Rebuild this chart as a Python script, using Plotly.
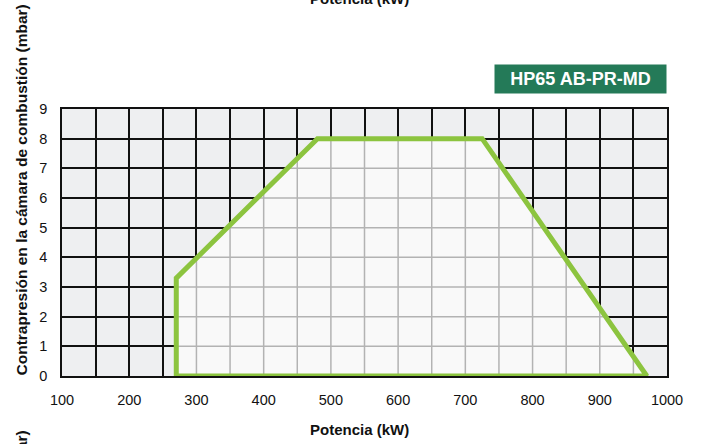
import numpy as np
import plotly.graph_objects as go

# ---- data ----
power_kw = [270, 270, 480, 725, 970, 270]        # working envelope, kW
pressure_mbar = [0, 3.3, 8, 8, 0, 0]             # back pressure, mbar
x_tick_values = list(range(100, 1001, 50))
x_tick_labels = [str(v) if v % 100 == 0 else "" for v in x_tick_values]
y_tick_values = list(range(0, 10))
y_tick_labels = [str(v) for v in y_tick_values]
model_label = "HP65 AB-PR-MD"
x_title = "Potencia (kW)"
y_title = "Contrapresión en la cámara de combustión (mbar)"

GREEN = "#8cc43f"
BADGE = "#247a58"
OUT_BG = "#eeeff1"
IN_BG = "#f9f9f9"
IN_GRID = "#b3b3b3"
FONT = "Liberation Sans, Arial, sans-serif"

fig = go.Figure()

# filled envelope (covers the black grid)
fig.add_trace(go.Scatter(x=power_kw, y=pressure_mbar, mode="lines", fill="toself",
                         fillcolor=IN_BG, line=dict(width=0), hoverinfo="skip",
                         showlegend=False))

# grey grid inside the envelope, clipped to the polygon
top_x = power_kw[1:5]
top_y = pressure_mbar[1:5]
gx, gy = [], []
for xv in x_tick_values:
    if power_kw[0] < xv < power_kw[4]:
        gx += [xv, xv, None]
        gy += [0, float(np.interp(xv, top_x, top_y)), None]
left_y = [pressure_mbar[1], pressure_mbar[2]]
left_x = [power_kw[1], power_kw[2]]
right_y = [pressure_mbar[4], pressure_mbar[3]]
right_x = [power_kw[4], power_kw[3]]
for yv in y_tick_values:
    if 0 < yv < max(pressure_mbar):
        xl = power_kw[0] if yv <= pressure_mbar[1] else float(np.interp(yv, left_y, left_x))
        xr = float(np.interp(yv, right_y, right_x))
        gx += [xl, xr, None]
        gy += [yv, yv, None]
fig.add_trace(go.Scatter(x=gx, y=gy, mode="lines", line=dict(color=IN_GRID, width=1.5),
                         hoverinfo="skip", showlegend=False))

# green outline
fig.add_trace(go.Scatter(x=power_kw, y=pressure_mbar, mode="lines",
                         line=dict(color=GREEN, width=5), hoverinfo="skip",
                         showlegend=False))

fig.update_layout(
    width=701, height=444,
    margin=dict(l=62, r=34, t=109, b=68),
    paper_bgcolor="white", plot_bgcolor=OUT_BG,
    font=dict(family=FONT, size=14, color="#111111"),
    xaxis=dict(range=[100, 1000], tickvals=x_tick_values, ticktext=x_tick_labels,
               showgrid=True, gridcolor="#111111", gridwidth=1.5, zeroline=False,
               showline=True, linecolor="#111111", linewidth=1.5, mirror=True,
               ticks="", ticklabelstandoff=10, tickfont=dict(size=14.5)),
    yaxis=dict(range=[0, 9], tickvals=y_tick_values, ticktext=y_tick_labels,
               showgrid=True, gridcolor="#111111", gridwidth=1.5, zeroline=False,
               showline=True, linecolor="#111111", linewidth=1.5, mirror=True,
               ticks="", ticklabelstandoff=10, tickfont=dict(size=14.5)),
)

pw, ph = 605.0, 267.0
def px(xp):
    return (xp - 62) / pw
def py(yp):
    return (376 - yp) / ph

annotations = [
    dict(text="<b>" + model_label + "</b>", xref="paper", yref="paper",
         x=1, y=py(64), xanchor="right", yanchor="top", showarrow=False,
         bgcolor=BADGE, font=dict(color="white", size=18, family=FONT),
         width=169, height=26, borderpad=1),
    dict(text="<b>" + x_title + "</b>", xref="paper", yref="paper",
         x=px(359), y=py(429), xanchor="center", yanchor="middle", showarrow=False,
         font=dict(size=15, family=FONT, color="#111")),
    dict(text="<b>" + y_title + "</b>", xref="paper", yref="paper",
         x=px(21), y=py(378), xanchor="center", yanchor="bottom", textangle=-90,
         showarrow=False, font=dict(size=15.5, family=FONT, color="#111")),
    # remnants of neighbouring charts, cut by the frame
    dict(text="<b>" + x_title + "</b>", xref="paper", yref="paper",
         x=px(359), y=py(9), xanchor="center", yanchor="bottom", showarrow=False,
         font=dict(size=15, family=FONT, color="#111")),
    dict(text="<b>" + y_title + "</b>", xref="paper", yref="paper",
         x=px(21), y=py(429), xanchor="center", yanchor="top", textangle=-90,
         showarrow=False, font=dict(size=15.5, family=FONT, color="#111")),
]
fig.update_layout(annotations=annotations)

fig.write_html("out.html", config={"displayModeBar": False},
               post_script="document.body.style.margin='0';document.body.style.padding='0';")
